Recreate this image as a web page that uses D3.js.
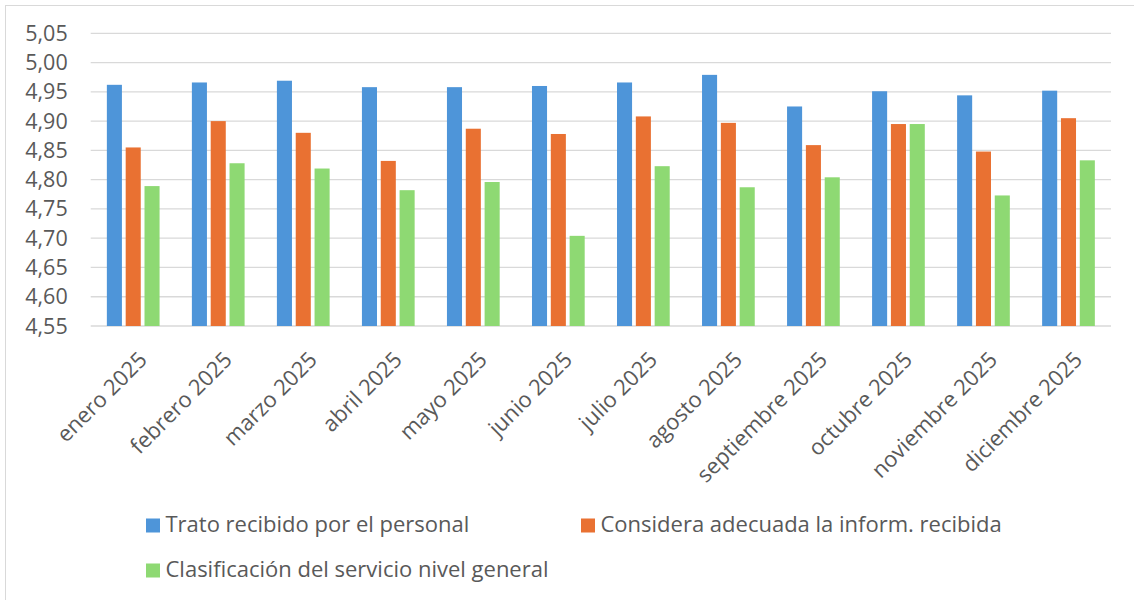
<!DOCTYPE html>
<html>
<head>
<meta charset="utf-8">
<script src="https://cdn.jsdelivr.net/npm/d3@7"></script>
<style>
  html, body { margin: 0; padding: 0; background: #fff; }
  svg { display: block; }
  text { font-family: "Open Sans", "Liberation Sans", sans-serif; fill: #595959; }
</style>
</head>
<body>
<svg id="chart" width="1134" height="600"></svg>
<script>
const months = ["enero 2025","febrero 2025","marzo 2025","abril 2025","mayo 2025","junio 2025",
                "julio 2025","agosto 2025","septiembre 2025","octubre 2025","noviembre 2025","diciembre 2025"];
const seriesNames = ["Trato recibido por el personal","Considera adecuada la inform. recibida","Clasificación del servicio nivel general"];
const trato =      [4.962, 4.966, 4.969, 4.958, 4.958, 4.960, 4.966, 4.979, 4.925, 4.951, 4.944, 4.952];
const considera =  [4.855, 4.900, 4.880, 4.832, 4.887, 4.878, 4.908, 4.897, 4.859, 4.895, 4.848, 4.905];
const clasif =     [4.789, 4.828, 4.819, 4.782, 4.796, 4.704, 4.823, 4.787, 4.804, 4.895, 4.773, 4.833];
const yTicks = [4.55, 4.60, 4.65, 4.70, 4.75, 4.80, 4.85, 4.90, 4.95, 5.00, 5.05];
const colors = ["#4E95D9", "#E97132", "#8ED973"];

const seriesValues = [trato, considera, clasif];
const svg = d3.select("#chart");

// chart border (left/top visible)
svg.append("rect").attr("x", 5.5).attr("y", 5.5).attr("width", 1140).attr("height", 610)
  .attr("fill", "#fff").attr("stroke", "#d9d9d9").attr("stroke-width", 1);

const plot = { left: 90.7, right: 1111, top: 33.3, bottom: 326 };

const y = d3.scaleLinear().domain([4.55, 5.05]).range([plot.bottom, plot.top]);
const x0 = d3.scaleBand().domain(months).range([plot.left, plot.right])
  .paddingInner(0.38).paddingOuter(0.19);
const x1 = d3.scaleBand().domain(seriesNames).range([0, x0.bandwidth()]).paddingInner(0.2);

// gridlines
svg.append("g").selectAll("line").data(yTicks).join("line")
  .attr("x1", plot.left).attr("x2", plot.right)
  .attr("y1", d => y(d)).attr("y2", d => y(d))
  .attr("stroke", "#d9d9d9").attr("stroke-width", 1.3);

// y labels
const fmt = d => d.toFixed(2).replace(".", ",");
svg.append("g").selectAll("text").data(yTicks).join("text")
  .attr("x", 67.7).attr("y", d => y(d)).attr("dy", "0.35em")
  .attr("text-anchor", "end").attr("font-size", 21.5)
  .text(fmt);

// bars
const groups = svg.append("g").selectAll("g").data(months).join("g")
  .attr("transform", d => `translate(${x0(d)},0)`);
groups.selectAll("rect").data((m, i) => seriesNames.map((s, k) => ({ s, k, v: seriesValues[k][i] })))
  .join("rect")
  .attr("x", d => x1(d.s)).attr("width", x1.bandwidth())
  .attr("y", d => y(d.v)).attr("height", d => y(4.55) - y(d.v))
  .attr("fill", d => colors[d.k]);

// x labels
svg.append("g").selectAll("text").data(months).join("text")
  .attr("transform", d => `translate(${x0(d) + x0.bandwidth() / 2 + 4},350) rotate(-45)`)
  .attr("text-anchor", "end").attr("dy", "0.72em").attr("font-size", 22)
  .text(d => d);

// legend
const legendItems = [
  { name: seriesNames[0], color: colors[0], x: 146, y: 532 },
  { name: seriesNames[1], color: colors[1], x: 581, y: 532 },
  { name: seriesNames[2], color: colors[2], x: 146, y: 577 }
];
const lg = svg.append("g").selectAll("g").data(legendItems).join("g")
  .attr("transform", d => `translate(${d.x},${d.y})`);
lg.append("rect").attr("x", 0).attr("y", -13.5).attr("width", 14).attr("height", 14)
  .attr("fill", d => d.color);
lg.append("text").attr("x", 19.5).attr("y", 0).attr("font-size", 22).text(d => d.name);
</script>
</body>
</html>
